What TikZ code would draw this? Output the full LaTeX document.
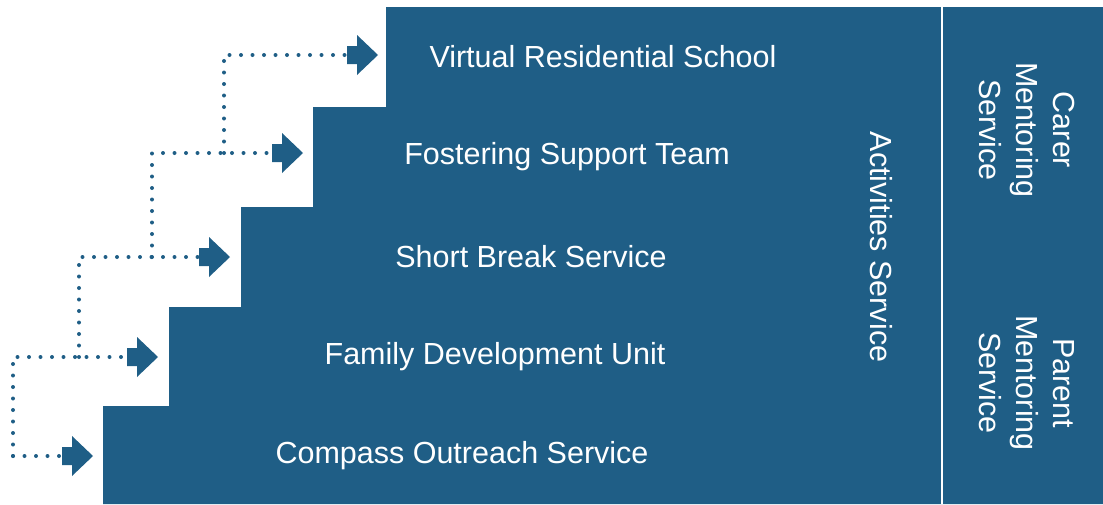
\documentclass[tikz,border=0pt]{standalone}
\usepackage{fontspec}
\setmainfont{Liberation Sans}
\definecolor{stairblue}{RGB}{31,94,134}
\begin{document}
\begin{tikzpicture}[x=1pt,y=-1pt,
  lbl/.style={text=white,font=\fontsize{30.5}{37}\selectfont,inner sep=0pt},
  vlbl/.style={lbl,rotate=-90,align=center},
  dots/.style={stairblue,line width=4pt,line cap=round,dash pattern=on 0pt off 11.5pt},
  arrowfill/.style={fill=stairblue}]
\useasboundingbox (0,0) rectangle (1103,504);
% staircase
\fill[stairblue] (103,504) -- (103,406) -- (169,406) -- (169,307) -- (241,307) -- (241,207)
  -- (313,207) -- (313,107) -- (386,107) -- (386,7) -- (1103,7) -- (1103,504) -- cycle;
\draw[white,line width=2pt] (942,7) -- (942,504);
% labels
\node[lbl] (vrs) at (603,57) {Virtual Residential School};
\node[lbl] (fst) at (567,157) {Fostering Support Team};
\node[lbl] (sbs) at (531,257) {Short Break Service};
\node[lbl] (fdu) at (495,357) {Family Development Unit};
\node[lbl] (cos) at (462,456) {Compass Outreach Service};
\node[vlbl] (act) at (881,247) {Activities Service};
\node[vlbl] (cms) at (1027,130) {Carer\\Mentoring\\Service};
\node[vlbl] (pms) at (1027,383) {Parent\\Mentoring\\Service};
% block arrows
\foreach \tx/\cy/\n in {378/55/a1,303/153/a2,230/257/a3,158/357/a4,93/456/a5}{
  \fill[arrowfill] (\tx-31,\cy-9) -- (\tx-21,\cy-9) -- (\tx-21,\cy-20) -- (\tx,\cy)
    -- (\tx-21,\cy+20) -- (\tx-21,\cy+9) -- (\tx-31,\cy+9) -- cycle;
  \coordinate (\n) at (\tx-31,\cy);
}
% dotted connectors
\coordinate (c2) at (224,153);
\coordinate (c3) at (152,257);
\coordinate (c4) at (79,357);
\coordinate (c5) at (13,456);
\draw[dots] (c5) -- (a5);
\draw[dots] (c5) |- (a4);
\draw[dots] (c4) |- (a3);
\draw[dots] (c3) |- (a2);
\draw[dots] (c2) |- (a1);
\end{tikzpicture}
\end{document}
